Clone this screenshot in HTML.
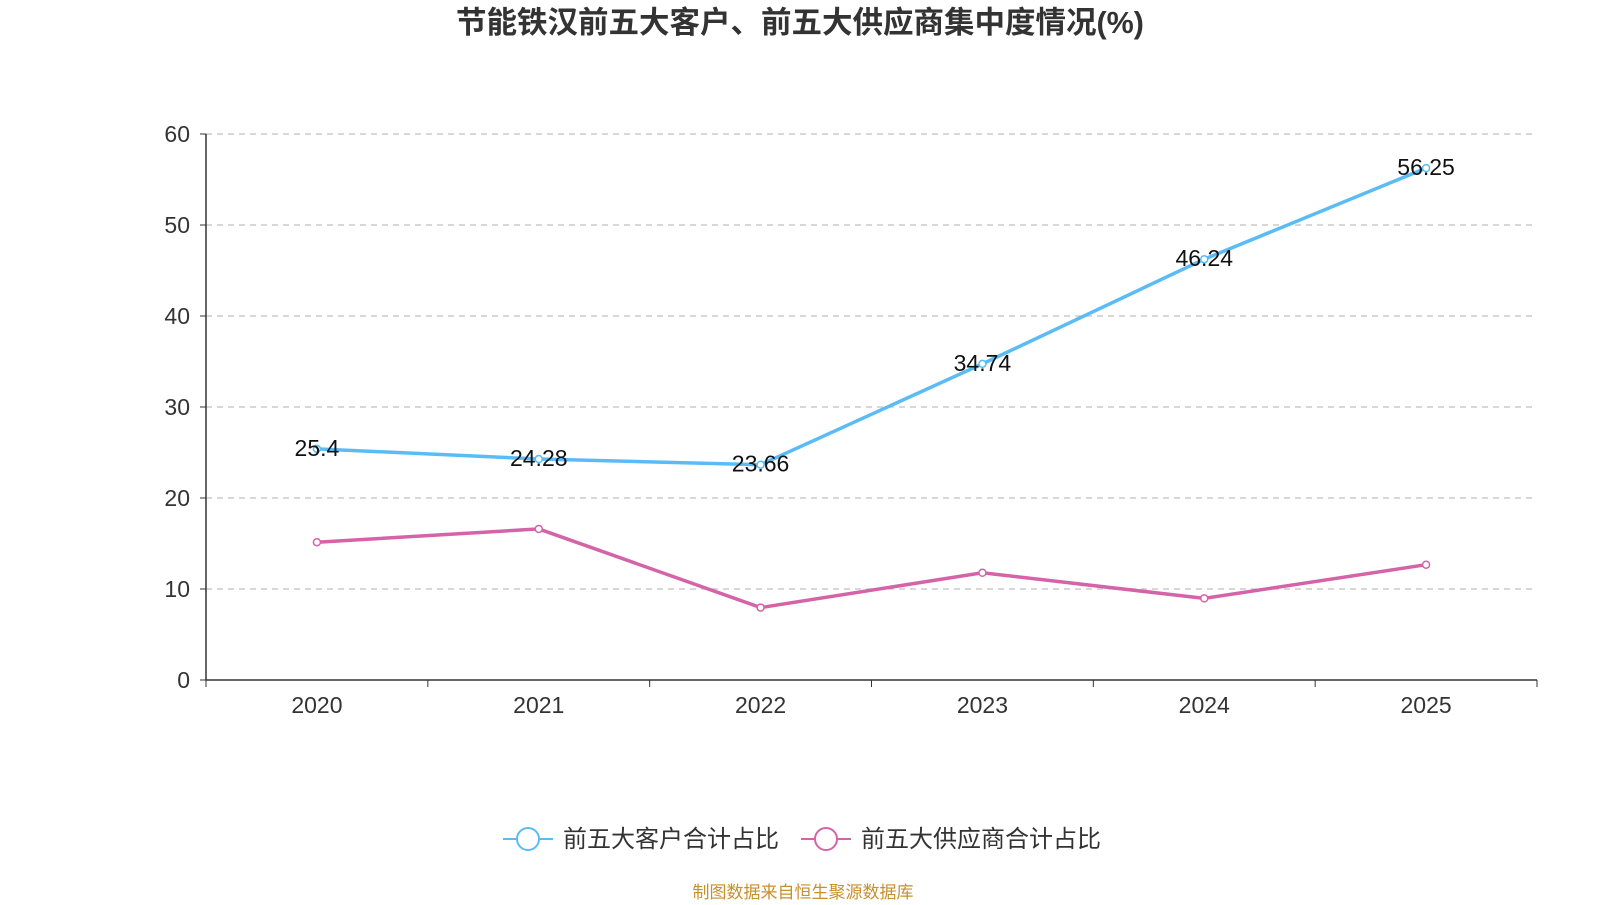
<!DOCTYPE html>
<html><head><meta charset="utf-8"><style>
body{margin:0;background:#fff;width:1600px;height:900px;overflow:hidden;font-family:"Liberation Sans","Noto Sans CJK SC",sans-serif;}
</style></head><body>
<svg width="1600" height="900">
<text x="800" y="33" text-anchor="middle" font-size="30.5" font-weight="bold" fill="#333">节能铁汉前五大客户、前五大供应商集中度情况(%)</text>
<g id="grid"></g><g id="axes"></g><g id="series"></g>
<g>
<g><line x1="503" y1="839" x2="553" y2="839" stroke="#5bbcf5" stroke-width="2"/><circle cx="528" cy="839" r="11" fill="#fff" stroke="#5bbcf5" stroke-width="2"/><text x="563" y="847" font-size="24" fill="#333">前五大客户合计占比</text></g>
<g><line x1="801" y1="839" x2="851" y2="839" stroke="#d563a8" stroke-width="2"/><circle cx="826" cy="839" r="11" fill="#fff" stroke="#d563a8" stroke-width="2"/><text x="861" y="847" font-size="24" fill="#333">前五大供应商合计占比</text></g>
</g>
<text x="803" y="898" text-anchor="middle" font-size="17" fill="#c8902a">制图数据来自恒生聚源数据库</text>
</svg>
<script>
const categories=["2020","2021","2022","2023","2024","2025"];
const customers=[25.4,24.28,23.66,34.74,46.24,56.25];
const suppliers=[15.14,16.6,7.96,11.78,8.97,12.67];
const yTicks=[0,10,20,30,40,50,60];
const NS="http://www.w3.org/2000/svg";
const L=206,R=1537,T=134,B=680,yMax=60;
const bw=(R-L)/categories.length;
const x=i=>L+bw*(i+0.5);
const y=v=>B-(v/yMax)*(B-T);
function mk(tag,attrs,parent,text){const e=document.createElementNS(NS,tag);for(const k in attrs)e.setAttribute(k,attrs[k]);if(text!==undefined)e.textContent=text;parent.appendChild(e);return e;}
const grid=document.getElementById('grid'),axes=document.getElementById('axes'),ser=document.getElementById('series');
yTicks.forEach(t=>{
 if(t>0){const g=mk('line',{x1:L,x2:R,y1:y(t),y2:y(t),stroke:'#ccc','stroke-dasharray':'6,5','stroke-width':1.5},grid);
 
 }
 const tk=mk('line',{x1:L-6,x2:L,y1:y(t),y2:y(t),stroke:'#333'},axes);
 
 
 const lb=mk('text',{x:L-16,y:y(t)+8,'text-anchor':'end','font-size':23,fill:'#333'},axes,t);
 
 
});
const ya=mk('line',{x1:L,x2:L,y1:T,y2:B,stroke:'#333','stroke-width':1.5},axes);


const xa=mk('line',{x1:L,x2:R,y1:B,y2:B,stroke:'#333','stroke-width':1.5},axes);


for(let i=0;i<=categories.length;i++){const t=mk('line',{x1:L+bw*i,x2:L+bw*i,y1:B,y2:B+7,stroke:'#333'},axes);
 
 }
categories.forEach((c,i)=>{const t=mk('text',{x:x(i),y:B+33,'text-anchor':'middle','font-size':23,fill:'#333'},axes,c);
 
 });
function drawLine(vals,color,name,labels){
 const p=mk('polyline',{points:vals.map((v,i)=>x(i)+','+y(v)).join(' '),fill:'none',stroke:color,'stroke-width':3.5},ser);
 
 
 vals.forEach((v,i)=>{const c=mk('circle',{cx:x(i),cy:y(v),r:3.5,fill:'#fff',stroke:color,'stroke-width':1.5},ser);
  
  
  if(labels){const t=mk('text',{x:x(i),y:y(v)+7,'text-anchor':'middle','font-size':23,fill:'#111'},ser,v);
  
  }});
}
drawLine(suppliers,'#d563a8','suppliers',false);
drawLine(customers,'#5bbcf5','customers',true);
</script>
</body></html>
